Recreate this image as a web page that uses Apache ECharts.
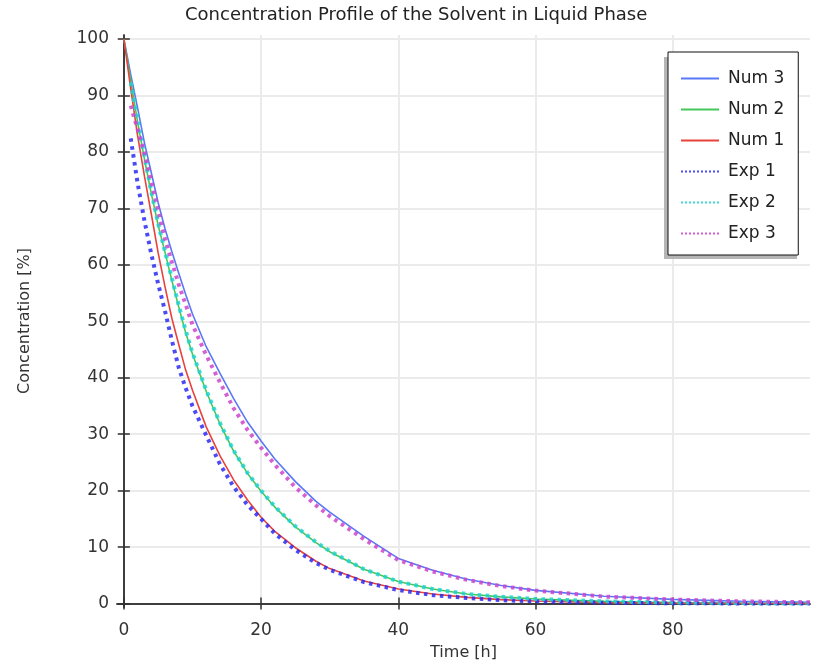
<!DOCTYPE html>
<html>
<head>
<meta charset="utf-8">
<script src="https://cdn.jsdelivr.net/npm/echarts@6/dist/echarts.min.js"></script>
<style>
  html, body { margin: 0; padding: 0; background: #fff; }
  #profile { width: 817px; height: 665px; }
</style>
</head>
<body>
<div id="profile"></div>
<script>
  // time grid [h] of the numerical curves
  var numTime = [0, 1, 2, 3, 4, 5, 6, 7, 8, 9, 10, 12, 14, 16, 18, 20, 22, 25, 28, 30, 35, 40, 45, 50, 55, 60, 70, 80, 90, 100]
  var num3 = [100, 93.7, 87.8, 81.6, 76.3, 71, 66.4, 62.3, 58.5, 54.8, 51.3, 45.5, 40.8, 36.3, 32.2, 28.8, 25.6, 21.6, 18.1, 16.2, 11.9, 8, 5.9, 4.3, 3.2, 2.35, 1.3, 0.75, 0.42, 0.25]
  var num2 = [100, 92.6, 85.3, 78.7, 72.6, 67, 62.2, 57.2, 52.5, 48, 44.2, 37.6, 31.8, 27, 23.1, 19.9, 17.1, 13.6, 10.8, 9.2, 6.1, 3.9, 2.6, 1.7, 1.2, 0.83, 0.4, 0.2, 0.1, 0.05]
  var num1 = [100, 91.2, 82.9, 75.7, 69, 62.1, 56.1, 50.5, 45.9, 41.4, 37.8, 31.3, 26.2, 21.9, 18.4, 15.3, 12.8, 9.9, 7.5, 6.2, 4, 2.6, 1.7, 1.1, 0.7, 0.45, 0.18, 0.08, 0.03, 0.01]

  // time grid [h] of the measured points
  var expTime = [1, 2, 3, 4, 5, 6, 7, 8, 9, 10, 12, 14, 16, 18, 20, 22, 25, 28, 30, 35, 40, 45, 50, 55, 60, 70, 80, 90, 100]
  var exp1 = [82.4, 74.5, 67.8, 61.9, 56.6, 51.8, 46.6, 41.8, 38.2, 35, 29.8, 24.7, 20.7, 17.5, 15, 12.4, 9.5, 7.2, 6, 3.8, 2.4, 1.5, 1, 0.6, 0.4, 0.15, 0.07, 0.03, 0.01]
  var exp2 = [92.3, 85.6, 79.1, 72.9, 67.3, 62.3, 57.6, 52.8, 48.4, 44.4, 37.8, 32, 27.1, 23.2, 20, 17.2, 13.7, 10.9, 9.3, 6.1, 3.9, 2.6, 1.7, 1.2, 0.83, 0.4, 0.2, 0.1, 0.05]
  var exp3 = [88.2, 84, 79.8, 74.8, 69.5, 64.6, 60.5, 56.5, 53, 49.4, 44, 39.2, 34.6, 30.8, 27.6, 24.6, 20.6, 17.4, 15.5, 11.4, 7.7, 5.7, 4.2, 3.1, 2.3, 1.25, 0.72, 0.4, 0.24]

  var xTicks = [0, 20, 40, 60, 80]
  var yTicks = [0, 10, 20, 30, 40, 50, 60, 70, 80, 90, 100]

  function pairs(t, v) {
    return t.map(function (x, i) { return [x, v[i]] })
  }

  var font = 'DejaVu Sans'
  var ink = '#333'

  function numSeries(name, color, t, v) {
    return {
      name: name, type: 'line', data: pairs(t, v),
      symbol: 'none', showSymbol: false, smooth: false, color: color,
      lineStyle: { width: 1.6, color: color }, z: 2
    }
  }
  function expSeries(name, color, t, v) {
    return {
      name: name, type: 'line', data: pairs(t, v),
      symbol: 'none', showSymbol: false, smooth: false, color: color,
      lineStyle: { width: 4, color: color, type: [3.5, 4.5], cap: 'butt', opacity: 0.85 }, z: 3
    }
  }

  var option = {
    backgroundColor: '#fff',
    animation: false,
    title: {
      text: 'Concentration Profile of the Solvent in Liquid Phase',
      left: 180,
      top: 1,
      textStyle: { fontFamily: font, fontWeight: 'normal', fontSize: 18, color: '#222' }
    },
    // shadow behind the legend box
    graphic: [{
      type: 'rect', z: 90, silent: true,
      shape: { x: 664, y: 57, width: 133, height: 202 },
      style: { fill: '#b5b5b5' }
    }],
    legend: {
      orient: 'vertical',
      left: 668, top: 52,
      z: 100,
      padding: [18, 14, 13, 12],
      itemWidth: 38, itemHeight: 14, itemGap: 14,
      backgroundColor: '#fff',
      borderColor: '#111', borderWidth: 1,
      itemStyle: { opacity: 0 },
      textStyle: { fontFamily: font, fontSize: 17, color: '#222', padding: [0, 0, 0, 4] },
      data: [
        { name: 'Num 3', lineStyle: { width: 2 } },
        { name: 'Num 2', lineStyle: { width: 2 } },
        { name: 'Num 1', lineStyle: { width: 2 } },
        { name: 'Exp 1', lineStyle: { width: 2, type: [2, 2] } },
        { name: 'Exp 2', lineStyle: { width: 2, type: [2, 2] } },
        { name: 'Exp 3', lineStyle: { width: 2, type: [2, 2] } }
      ]
    },
    grid: { left: 117, right: 7, top: 35, bottom: 58, outerBoundsMode: 'none', containLabel: false },
    xAxis: [
      {
        type: 'value', min: -1, max: 100,
        name: 'Time [h]', nameLocation: 'middle', nameGap: 38,
        nameTextStyle: { fontFamily: font, fontSize: 16, color: ink },
        axisLine: { lineStyle: { color: ink, width: 1.5 } },
        axisTick: { inside: true, length: 6, lineStyle: { color: ink, width: 1.5 }, customValues: xTicks },
        axisLabel: { fontFamily: font, fontSize: 17, color: ink, margin: 15, customValues: xTicks },
        splitLine: { show: true, lineStyle: { color: '#ebebeb', width: 2 } }
      },
      {
        type: 'value', min: -1, max: 100, position: 'top',
        axisLine: { lineStyle: { color: ink, width: 1.5 } },
        axisTick: { inside: true, length: 6, lineStyle: { color: ink, width: 1.5 }, customValues: xTicks },
        axisLabel: { show: false },
        splitLine: { show: false }
      }
    ],
    yAxis: [
      {
        type: 'value', min: -0.6, max: 100.7,
        name: 'Concentration [%]', nameLocation: 'middle', nameGap: 84,
        nameTextStyle: { fontFamily: font, fontSize: 16, color: ink },
        axisLine: { show: true, lineStyle: { color: ink, width: 1.5 } },
        axisTick: { show: true, length: 6, lineStyle: { color: ink, width: 1.5 }, customValues: yTicks },
        axisLabel: { fontFamily: font, fontSize: 17, color: ink, margin: 8, customValues: yTicks },
        splitLine: { show: true, lineStyle: { color: '#ebebeb', width: 2 } }
      },
      {
        type: 'value', min: -0.6, max: 100.7, position: 'right',
        axisLine: { show: true, lineStyle: { color: ink, width: 1.5 } },
        axisTick: { show: true, length: 6, lineStyle: { color: ink, width: 1.5 }, customValues: yTicks },
        axisLabel: { show: false },
        splitLine: { show: false }
      }
    ],
    series: [
      numSeries('Num 3', '#5a78f5', numTime, num3),
      numSeries('Num 2', '#45c85a', numTime, num2),
      numSeries('Num 1', '#e8423c', numTime, num1),
      expSeries('Exp 1', '#2a2cf5', expTime, exp1),
      expSeries('Exp 2', '#1ed2d2', expTime, exp2),
      expSeries('Exp 3', '#cc44cc', expTime, exp3)
    ]
  }

  var chart = echarts.init(document.getElementById('profile'))
  chart.setOption(option)
</script>
</body>
</html>
